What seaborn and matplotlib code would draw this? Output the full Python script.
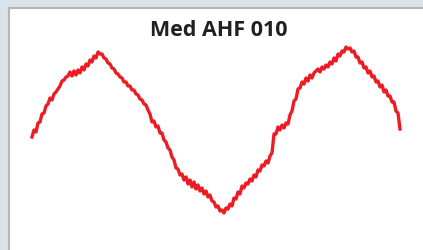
import numpy as np
import matplotlib
matplotlib.use("Agg")
import matplotlib.pyplot as plt
import seaborn as sns

title = "Med AHF 010"
# trace level (pixel rows from top, one every 2 px)
trace = [138, 131, 133, 124, 123, 115, 114, 107, 105, 99, 101, 95, 93, 90, 87, 82, 81, 78, 77, 73,
         77, 72, 76, 71, 74, 68, 71, 65, 67, 61, 63, 57, 59, 53, 55, 55, 59, 60, 64, 65,
         69, 70, 74, 75, 78, 79, 83, 83, 87, 87, 91, 91, 95, 96, 100, 101, 105, 106, 111, 115,
         123, 122, 128, 127, 134, 134, 141, 143, 149, 151, 158, 161, 169, 170, 176, 175, 181, 178, 185, 181,
         188, 183, 190, 186, 192, 189, 195, 192, 198, 196, 202, 203, 208, 207, 212, 211, 214, 209, 210, 205,
         207, 199, 200, 193, 195, 187, 189, 184, 185, 180, 182, 176, 178, 171, 172, 166, 167, 162, 164, 157,
         154, 135, 135, 128, 131, 126, 129, 124, 125, 116, 112, 102, 100, 90, 89, 83, 85, 79, 82, 76,
         79, 74, 72, 70, 73, 68, 70, 66, 68, 63, 65, 59, 62, 55, 57, 52, 53, 48, 50, 49,
         53, 52, 58, 58, 64, 63, 69, 68, 74, 72, 78, 77, 83, 82, 88, 86, 93, 91, 97, 97,
         103, 103, 112, 114, 130]
samples = list(range(len(trace)))

fig = plt.figure(figsize=(4.23, 2.51), dpi=100)
fig.patch.set_facecolor("#dbe3ea")
ax = fig.add_axes([9 / 423, 0, 1.0, 242 / 251])
ax.set_facecolor("white")

sns.lineplot(x=samples, y=trace, color="#ed1c24", lw=2.4, ax=ax)

ax.set_xlim(-11.5, -11.5 + 423 / 2)
ax.set_ylim(251, 9)
ax.set_xticks([])
ax.set_yticks([])
ax.set_xlabel("")
ax.set_ylabel("")
for side in ["right", "bottom"]:
    ax.spines[side].set_visible(False)
for side in ["left", "top"]:
    ax.spines[side].set_color("#b4b4b4")
    ax.spines[side].set_linewidth(1.5)

fig.text(219 / 423, 1 - 30 / 251, title, ha="center", va="center",
         fontsize=15.5, fontweight="bold", family="Open Sans", color="#231f20")

fig.savefig("out.png", dpi=100)
